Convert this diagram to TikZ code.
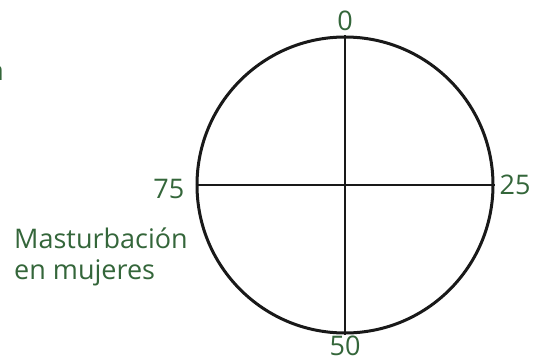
\documentclass[tikz,border=0pt]{standalone}
\usepackage{fontspec}
\setmainfont{Open Sans}
\usetikzlibrary{positioning}
\definecolor{dialgreen}{RGB}{52,102,58}
\definecolor{dialblack}{RGB}{25,25,25}

\begin{document}
\begin{tikzpicture}[
  x=1pt, y=-1pt,
  dial/.style={circle, draw=dialblack, line width=3pt, minimum size=296pt, inner sep=0pt},
  axis/.style={draw=dialblack, line width=2.6pt},
  quarter/.style={text=dialgreen, font=\fontsize{27}{31}\selectfont, inner sep=1pt},
  every node/.style={text=dialgreen}
]
  \useasboundingbox (0,0) rectangle (536,361);

  % Dial
  \node[dial] (clock) at (345,185) {};
  \draw[axis] (clock.north) -- (clock.south);
  \draw[axis] (clock.west) -- (clock.east);

  % Quarter labels
  \node[quarter, above=4pt of clock.north] (q0)  {0};
  \node[quarter, right=4pt of clock.east]  (q25) {25};
  \node[quarter, below=0pt of clock.south] (q50) {50};
  \node[quarter, anchor=east] (q75) at ([xshift=-10pt,yshift=-4pt]clock.west) {75};

  % Caption
  \node[quarter, anchor=north west, align=left]
       (caption) at (13,227) {Masturbación\\en mujeres};

  % Cut-off letter at the edge
  \node[quarter, anchor=base east] (edge) at (5,81) {a};
\end{tikzpicture}
\end{document}
